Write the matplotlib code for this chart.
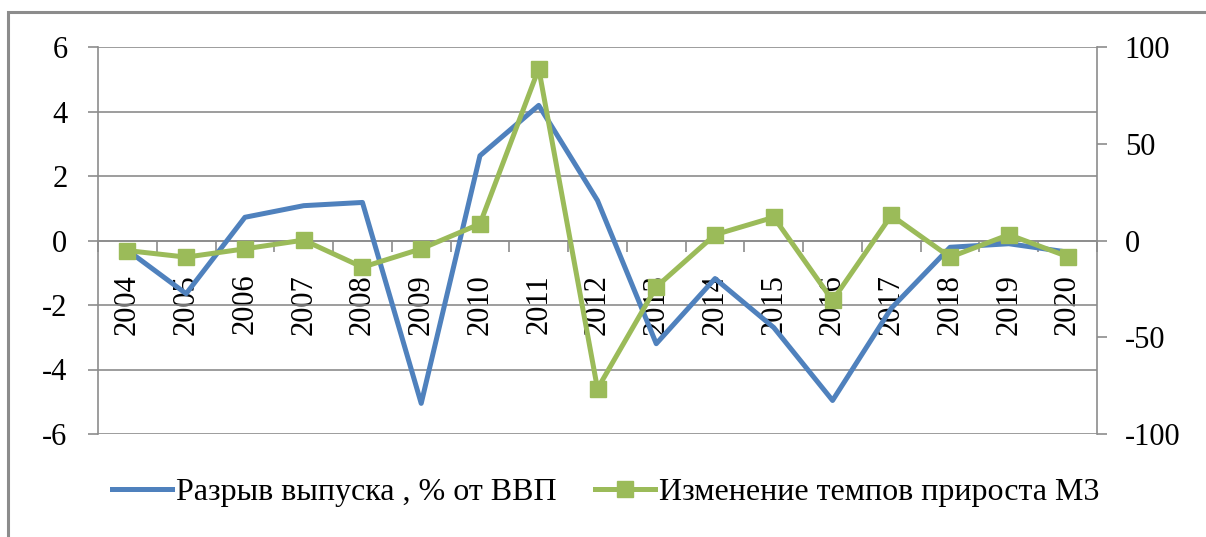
import numpy as np
import matplotlib.pyplot as plt
from matplotlib.patches import Rectangle
from matplotlib.ticker import FixedLocator

# Данные
years = [str(y) for y in range(2004, 2021)]
output_gap = [-0.3, -1.65, 0.72, 1.08, 1.18, -5.05, 2.63, 4.19, 1.24,
              -3.2, -1.18, -2.7, -4.96, -2.1, -0.21, -0.1, -0.36]
m3_change = [-5.2, -8.6, -4.3, 0.2, -13.8, -4.3, 8.6, 88.8, -76.6,
             -24.0, 3.0, 12.0, -31.0, 13.0, -8.6, 3.0, -8.3]
left_ticks = [-6, -4, -2, 0, 2, 4, 6]
right_ticks = [-100, -50, 0, 50, 100]

label_gap = 'Разрыв выпуска , % от ВВП'
label_m3 = 'Изменение темпов прироста М3'

plt.rcParams['font.family'] = ['Liberation Serif', 'DejaVu Serif']
plt.rcParams['axes.unicode_minus'] = False
grey = '#8c8c8c'
blue = '#4f81bd'
green = '#9bbb59'

fig = plt.figure(figsize=(12.06, 5.37), dpi=100)
ax = fig.add_axes([98 / 1206, 1 - 434 / 537, (1097 - 98) / 1206, (434 - 47) / 537])
ax2 = ax.twinx()

x = np.arange(len(years))

# Рамка вокруг рисунка (правый и нижний края за пределами)
fig.patches.append(Rectangle((8 / 1206, -0.5), 2.0, 1.5 - 12 / 537,
                             transform=fig.transFigure, fill=False,
                             edgecolor=grey, linewidth=2.2))

ax.plot(x, output_gap, color=blue, linewidth=3.6, zorder=3)
ax2.plot(x, m3_change, color=green, linewidth=3.6, marker='s',
         markersize=12, zorder=3)

ax.set_xlim(-0.5, len(years) - 0.5)
ax.set_ylim(-6, 6)
ax2.set_ylim(-100, 100)

ax.set_yticks(left_ticks)
ax2.set_yticks(right_ticks)
ax.grid(axis='y', color=grey, linewidth=1.2)
ax.set_axisbelow(True)

for a in (ax, ax2):
    a.spines['top'].set_visible(False)
    a.tick_params(axis='y', labelsize=22, colors=grey, labelcolor='black',
                  length=7, width=1.2)
ax.spines['left'].set_color(grey)
ax.spines['left'].set_linewidth(1.2)
ax.spines['right'].set_visible(False)
ax2.spines['right'].set_color(grey)
ax2.spines['right'].set_linewidth(1.2)
ax2.spines['left'].set_visible(False)
ax2.spines['bottom'].set_visible(False)
ax.tick_params(axis='y', pad=15)
ax2.tick_params(axis='y', pad=13)

# Ось X на уровне нуля
ax.spines['bottom'].set_position(('data', 0))
ax.spines['bottom'].set_color(grey)
ax.spines['bottom'].set_linewidth(1.2)
ax.set_xticks(x)
ax.set_xticklabels(years, rotation=90, fontsize=22)
ax.tick_params(axis='x', which='major', length=0, pad=24)
ax.xaxis.set_minor_locator(FixedLocator(np.arange(-0.5, len(years), 1.0)))
ax.tick_params(axis='x', which='minor', length=8, width=1.2, color=grey)

handles = ax.get_lines()[:1] + ax2.get_lines()[:1]
fig.legend(handles, [label_gap, label_m3], loc='center',
           bbox_to_anchor=(0.502, 1 - 492 / 537), ncol=2, frameon=False,
           fontsize=23, handlelength=1.9, columnspacing=1.2, handletextpad=0.1)

fig.savefig('out.png', dpi=100)
